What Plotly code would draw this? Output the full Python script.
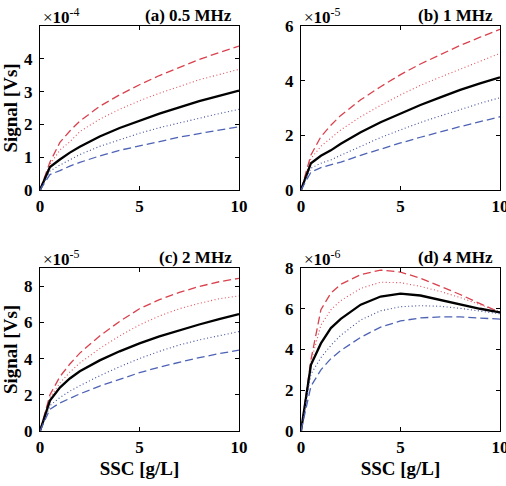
import plotly.graph_objects as go

ssc = [0, 0.5, 1, 1.5, 2, 3, 4, 5, 6, 7, 8, 9, 10]

# Panel (a) 0.5 MHz, x1e-4
a_rd = [0, 0.85, 1.45, 1.80, 2.10, 2.55, 2.90, 3.21, 3.49, 3.74, 3.98, 4.19, 4.39]
a_rt = [0, 0.78, 1.22, 1.47, 1.78, 2.16, 2.46, 2.72, 2.95, 3.16, 3.36, 3.52, 3.68]
a_bk = [0, 0.70, 0.93, 1.14, 1.32, 1.63, 1.89, 2.12, 2.33, 2.52, 2.71, 2.87, 3.03]
a_bt = [0, 0.58, 0.76, 0.93, 1.08, 1.33, 1.53, 1.73, 1.90, 2.05, 2.19, 2.33, 2.46]
a_bd = [0, 0.47, 0.59, 0.73, 0.84, 1.04, 1.21, 1.35, 1.48, 1.61, 1.72, 1.83, 1.93]

# Panel (b) 1 MHz, x1e-5
b_rd = [0, 1.28, 1.95, 2.37, 2.73, 3.30, 3.78, 4.22, 4.61, 4.96, 5.29, 5.59, 5.88]
b_rt = [0, 1.15, 1.60, 1.90, 2.20, 2.68, 3.10, 3.48, 3.83, 4.13, 4.43, 4.71, 5.00]
b_bk = [0, 0.98, 1.25, 1.45, 1.69, 2.11, 2.48, 2.80, 3.11, 3.39, 3.66, 3.90, 4.12]
b_bt = [0, 0.80, 0.98, 1.10, 1.27, 1.60, 1.92, 2.20, 2.47, 2.71, 2.95, 3.17, 3.38]
b_bd = [0, 0.65, 0.82, 0.93, 1.02, 1.27, 1.50, 1.72, 1.93, 2.13, 2.32, 2.50, 2.68]

# Panel (c) 2 MHz, x1e-5
c_rd = [0, 2.00, 3.00, 3.70, 4.30, 5.25, 6.05, 6.75, 7.25, 7.65, 7.98, 8.24, 8.43]
c_rt = [0, 1.85, 2.65, 3.25, 3.75, 4.55, 5.25, 5.86, 6.35, 6.75, 7.05, 7.30, 7.46]
c_bk = [0, 1.68, 2.40, 2.90, 3.30, 3.90, 4.40, 4.84, 5.22, 5.56, 5.88, 6.18, 6.46]
c_bt = [0, 1.40, 1.85, 2.20, 2.50, 3.05, 3.55, 4.00, 4.40, 4.75, 5.03, 5.28, 5.49]
c_bd = [0, 1.20, 1.55, 1.80, 2.05, 2.48, 2.87, 3.22, 3.53, 3.80, 4.05, 4.27, 4.47]

# Panel (d) 4 MHz, x1e-6
d_rd = [0, 3.50, 5.95, 6.77, 7.20, 7.67, 7.90, 7.80, 7.50, 7.10, 6.70, 6.25, 5.82]
d_rt = [0, 3.40, 5.20, 5.95, 6.40, 7.00, 7.30, 7.28, 7.10, 6.85, 6.55, 6.20, 5.85]
d_bk = [0, 3.25, 4.30, 5.05, 5.50, 6.20, 6.60, 6.74, 6.65, 6.44, 6.20, 6.00, 5.82]
d_bt = [0, 2.80, 3.60, 4.20, 4.70, 5.45, 5.90, 6.10, 6.15, 6.12, 6.02, 5.90, 5.75]
d_bd = [0, 2.20, 3.00, 3.55, 3.95, 4.60, 5.10, 5.40, 5.55, 5.60, 5.60, 5.55, 5.49]

titles = ["(a) 0.5 MHz", "(b) 1 MHz", "(c) 2 MHz", "(d) 4 MHz"]
exponents = ["-4", "-5", "-5", "-6"]
yranges = [5, 6, 9, 8]
ytickvals = [[0, 1, 2, 3, 4], [0, 2, 4, 6], [0, 2, 4, 6, 8], [0, 2, 4, 6, 8]]
xticks = [0, 5, 10]

panels = [
    (a_rd, a_rt, a_bk, a_bt, a_bd),
    (b_rd, b_rt, b_bk, b_bt, b_bd),
    (c_rd, c_rt, c_bk, c_bt, c_bd),
    (d_rd, d_rt, d_bk, d_bt, d_bd),
]

W, H = 506, 486
xdom = [[40 / W, 239 / W], [301 / W, 500 / W], [40 / W, 239 / W], [301 / W, 500 / W]]
ydom = [[1 - 190 / H, 1 - 26 / H], [1 - 190 / H, 1 - 26 / H],
        [1 - 431 / H, 1 - 268 / H], [1 - 431 / H, 1 - 268 / H]]

styles = [
    dict(color="#d9414d", width=1.3, dash="8px,4px"),
    dict(color="#e0505a", width=1.1, dash="1px,2.5px"),
    dict(color="#000000", width=2.3, dash="solid"),
    dict(color="#3c4a9a", width=1.1, dash="1px,2.5px"),
    dict(color="#4d62b4", width=1.3, dash="8px,4px"),
]

FONT = "Liberation Serif"
fig = go.Figure()
layout = dict(width=W, height=H, margin=dict(l=0, r=0, t=0, b=0, autoexpand=False),
              paper_bgcolor="white", plot_bgcolor="white", showlegend=False,
              font=dict(family=FONT, size=14, color="black"))
annotations = []
for i, series in enumerate(panels):
    n = "" if i == 0 else str(i + 1)
    for s, st in zip(series, styles):
        fig.add_trace(go.Scatter(x=ssc, y=s, mode="lines", line=st,
                                 xaxis="x" + n, yaxis="y" + n, hoverinfo="skip"))
    common = dict(showline=True, linecolor="black", linewidth=1, mirror="ticks",
                  ticks="inside", ticklen=4, tickcolor="black", showgrid=False,
                  zeroline=False, automargin=False, ticklabeloverflow="allow",
                  tickfont=dict(family=FONT, size=17, color="black", weight="bold"))
    xa = dict(common, domain=xdom[i], range=[0, 10], tickvals=xticks,
              anchor="y" + n, ticklabelstandoff=1)
    ya = dict(common, domain=ydom[i], range=[0, yranges[i]], tickvals=ytickvals[i],
              anchor="x" + n, ticklabelstandoff=3)
    if i >= 2:
        xa["title"] = dict(text="<b>SSC [g/L]</b>", font=dict(family=FONT, size=19),
                           standoff=5)
    if i % 2 == 0:
        ya["title"] = dict(text="<b>Signal [Vs]</b>", font=dict(family=FONT, size=19),
                           standoff=4)
    layout["xaxis" + n] = xa
    layout["yaxis" + n] = ya
    ytop = ydom[i][1]
    annotations.append(dict(text="<b>" + titles[i] + "</b>", xref="paper", yref="paper",
                            x=xdom[i][1] - 5 / W, y=ytop + 11 / H, xanchor="right",
                            yanchor="middle", showarrow=False,
                            font=dict(family=FONT, size=17, color="black")))
    annotations.append(dict(text="×<b>10</b><sup>" + exponents[i] + "</sup>",
                            xref="paper", yref="paper",
                            x=xdom[i][0] + 1 / W, y=ytop + 10 / H, xanchor="left",
                            yanchor="middle", showarrow=False,
                            font=dict(family=FONT, size=17, color="black")))
layout["annotations"] = annotations
fig.update_layout(**layout)
fig.write_html("out.html")
